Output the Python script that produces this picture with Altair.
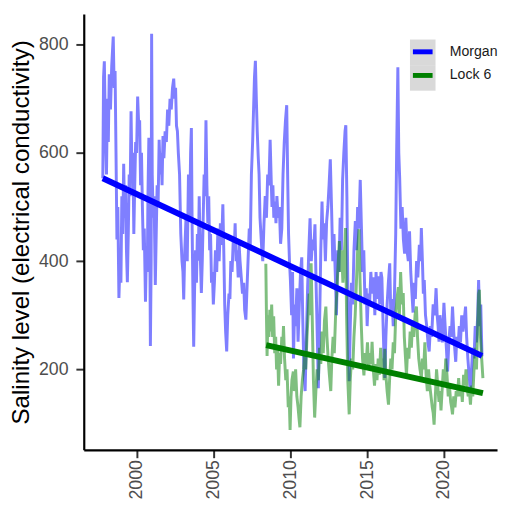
import altair as alt
import pandas as pd

# ---- data ----
morgan_year = [1997.78, 1997.83, 1997.88, 1997.95, 1998.02, 1998.08, 1998.14, 1998.2, 1998.28, 1998.36,
               1998.46, 1998.52, 1998.58, 1998.64, 1998.7, 1998.76, 1998.83, 1998.9, 1998.96, 1999.02,
               1999.08, 1999.14, 1999.2, 1999.26, 1999.32, 1999.38, 1999.44, 1999.5, 1999.56, 1999.62,
               1999.68, 1999.74, 1999.8, 1999.86, 1999.92, 1999.98, 2000.05, 2000.12, 2000.18, 2000.24,
               2000.3, 2000.36, 2000.42, 2000.48, 2000.56, 2000.62, 2000.68, 2000.72, 2000.78, 2000.84,
               2000.88, 2000.93, 2000.96, 2001.0, 2001.06, 2001.12, 2001.2, 2001.26, 2001.32, 2001.38,
               2001.45, 2001.52, 2001.58, 2001.64, 2001.7, 2001.76, 2001.84, 2001.92, 2002.0, 2002.08,
               2002.16, 2002.24, 2002.32, 2002.4, 2002.46, 2002.52, 2002.58, 2002.64, 2002.7, 2002.78,
               2002.86, 2002.94, 2003.0, 2003.05, 2003.12, 2003.2, 2003.28, 2003.36, 2003.44, 2003.5,
               2003.55, 2003.6, 2003.66, 2003.7, 2003.76, 2003.82, 2003.88, 2003.94, 2004.0, 2004.06,
               2004.12, 2004.2, 2004.26, 2004.32, 2004.38, 2004.44, 2004.5, 2004.56, 2004.62, 2004.68,
               2004.74, 2004.8, 2004.86, 2004.92, 2004.98, 2005.05, 2005.12, 2005.2, 2005.28, 2005.36,
               2005.44, 2005.52, 2005.6, 2005.66, 2005.72, 2005.78, 2005.85, 2005.92, 2006.0, 2006.06,
               2006.12, 2006.2, 2006.28, 2006.34, 2006.4, 2006.46, 2006.52, 2006.6, 2006.66, 2006.72,
               2006.8, 2006.88, 2006.96, 2007.02, 2007.1, 2007.16, 2007.24, 2007.32, 2007.38, 2007.46,
               2007.54, 2007.6, 2007.66, 2007.72, 2007.78, 2007.84, 2007.9, 2007.96, 2008.02, 2008.08,
               2008.14, 2008.2, 2008.28, 2008.36, 2008.44, 2008.52, 2008.6, 2008.68, 2008.74, 2008.8,
               2008.86, 2008.92, 2009.0, 2009.06, 2009.12, 2009.2, 2009.28, 2009.36, 2009.44, 2009.52,
               2009.6, 2009.68, 2009.76, 2009.82, 2009.88, 2009.94, 2010.0, 2010.08, 2010.14, 2010.2,
               2010.28, 2010.34, 2010.42, 2010.5, 2010.58, 2010.66, 2010.74, 2010.8, 2010.88, 2010.96,
               2011.04, 2011.12, 2011.2, 2011.28, 2011.36, 2011.44, 2011.52, 2011.6, 2011.68, 2011.76,
               2011.82, 2011.9, 2011.98, 2012.06, 2012.12, 2012.2, 2012.28, 2012.36, 2012.44, 2012.52,
               2012.6, 2012.68, 2012.76, 2012.84, 2012.92, 2013.0, 2013.08, 2013.16, 2013.24, 2013.32,
               2013.4, 2013.48, 2013.56, 2013.61, 2013.68, 2013.76, 2013.83, 2013.9, 2013.98, 2014.06,
               2014.14, 2014.23, 2014.3, 2014.38, 2014.46, 2014.55, 2014.62, 2014.7, 2014.78, 2014.86,
               2014.94, 2015.0, 2015.08, 2015.16, 2015.24, 2015.32, 2015.43, 2015.5, 2015.58, 2015.66,
               2015.74, 2015.82, 2015.9, 2015.96, 2016.04, 2016.1, 2016.15, 2016.22, 2016.3, 2016.38,
               2016.47, 2016.54, 2016.62, 2016.7, 2016.78, 2016.86, 2016.92, 2017.0, 2017.06, 2017.12,
               2017.2, 2017.28, 2017.36, 2017.44, 2017.52, 2017.6, 2017.68, 2017.76, 2017.84, 2017.92,
               2017.99, 2018.06, 2018.14, 2018.22, 2018.3, 2018.4, 2018.48, 2018.53, 2018.6, 2018.66,
               2018.72, 2018.8, 2018.88, 2018.96, 2019.04, 2019.12, 2019.2, 2019.3, 2019.4, 2019.49,
               2019.56, 2019.62, 2019.68, 2019.74, 2019.81, 2019.9, 2020.0, 2020.08, 2020.16, 2020.24,
               2020.32, 2020.4, 2020.48, 2020.56, 2020.64, 2020.7, 2020.77, 2020.84, 2020.92, 2021.0,
               2021.08, 2021.16, 2021.24, 2021.32, 2021.41, 2021.48, 2021.56, 2021.64, 2021.73, 2021.8,
               2021.88, 2021.96, 2022.04, 2022.12, 2022.2, 2022.26, 2022.34, 2022.4, 2022.48]
morgan_ec = [553, 740, 769, 640, 560, 700, 620, 745, 680, 760,
             815, 720, 751, 600, 440, 500, 332, 400, 360, 520,
             450, 580, 480, 540, 420, 361, 450, 560, 520, 677,
             560, 600, 450, 540, 620, 600, 704, 650, 660, 540,
             600, 500, 420, 460, 325, 420, 380, 520, 628, 450,
             243, 400, 820, 560, 480, 520, 356, 450, 540, 500,
             624, 560, 600, 540, 631, 590, 640, 620, 680, 650,
             700, 680, 720, 737, 700, 720, 650, 640, 600, 560,
             450, 400, 380, 329, 420, 480, 400, 560, 480, 600,
             646, 460, 320, 242, 350, 420, 360, 450, 401, 520,
             420, 341, 400, 480, 560, 520, 660, 540, 470, 520,
             420, 450, 360, 380, 320, 360, 420, 380, 460, 400,
             470, 430, 505, 420, 320, 270, 233, 300, 340, 330,
             400, 380, 440, 420, 470, 400, 420, 370, 430, 400,
             370, 340, 360, 310, 292, 340, 400, 460, 420, 560,
             620, 680, 740, 770, 700, 640, 595, 560, 480, 450,
             420, 400, 470, 520, 480, 560, 540, 624, 560, 500,
             540, 480, 510, 470, 520, 480, 500, 432, 460, 560,
             620, 660, 688, 560, 450, 400, 365, 300, 380, 220,
             320, 280, 350, 251, 320, 380, 407, 300, 200, 160,
             260, 350, 420, 479, 400, 440, 420, 468, 350, 250,
             165, 280, 420, 510, 440, 470, 400, 473, 500, 541,
             588, 500, 400, 450, 380, 300, 420, 380, 480, 420,
             550, 600, 640, 651, 520, 300, 178, 280, 360, 320,
             420, 474, 420, 500, 460, 550, 470, 380, 420, 320,
             350, 280, 340, 320, 380, 340, 370, 300, 380, 330,
             372, 320, 380, 369, 280, 220, 184, 260, 320, 360,
             396, 300, 330, 280, 340, 450, 600, 758, 600, 552,
             460, 500, 440, 414, 480, 420, 400, 455, 380, 340,
             305, 360, 330, 400, 370, 430, 400, 461, 400, 340,
             365, 300, 280, 250, 233, 280, 260, 320, 300, 350,
             300, 280, 251, 300, 280, 250, 323, 280, 240, 196,
             250, 280, 260, 316, 270, 240, 214, 260, 240, 280,
             250, 300, 270, 290, 316, 260, 220, 190, 160, 200,
             240, 220, 280, 250, 300, 365, 280, 320, 224]

lock_year = [2008.4, 2008.44, 2008.48, 2008.54, 2008.6, 2008.66, 2008.72, 2008.78, 2008.84, 2008.91,
             2008.98, 2009.04, 2009.1, 2009.16, 2009.23, 2009.3, 2009.36, 2009.44, 2009.5, 2009.55,
             2009.62, 2009.7, 2009.78, 2009.86, 2009.92, 2009.98, 2010.04, 2010.1, 2010.19, 2010.26,
             2010.34, 2010.42, 2010.5, 2010.56, 2010.62, 2010.7, 2010.78, 2010.86, 2010.94, 2011.0,
             2011.08, 2011.15, 2011.22, 2011.28, 2011.35, 2011.42, 2011.5, 2011.58, 2011.66, 2011.74,
             2011.82, 2011.9, 2011.98, 2012.06, 2012.14, 2012.22, 2012.31, 2012.38, 2012.46, 2012.54,
             2012.63, 2012.7, 2012.78, 2012.86, 2012.95, 2013.02, 2013.1, 2013.19, 2013.26, 2013.34,
             2013.42, 2013.5, 2013.59, 2013.66, 2013.74, 2013.83, 2013.9, 2013.98, 2014.06, 2014.14,
             2014.22, 2014.3, 2014.38, 2014.47, 2014.54, 2014.62, 2014.7, 2014.79, 2014.86, 2014.94,
             2015.02, 2015.1, 2015.18, 2015.26, 2015.32, 2015.4, 2015.48, 2015.56, 2015.64, 2015.72,
             2015.8, 2015.88, 2015.96, 2016.04, 2016.1, 2016.15, 2016.22, 2016.3, 2016.39, 2016.46,
             2016.54, 2016.62, 2016.7, 2016.78, 2016.86, 2016.94, 2017.03, 2017.1, 2017.18, 2017.26,
             2017.35, 2017.42, 2017.5, 2017.56, 2017.64, 2017.72, 2017.8, 2017.88, 2017.96, 2018.04,
             2018.12, 2018.21, 2018.28, 2018.36, 2018.44, 2018.53, 2018.6, 2018.68, 2018.76, 2018.84,
             2018.92, 2019.0, 2019.08, 2019.16, 2019.24, 2019.3, 2019.36, 2019.44, 2019.52, 2019.6,
             2019.68, 2019.74, 2019.81, 2019.88, 2019.96, 2020.04, 2020.12, 2020.2, 2020.28, 2020.36,
             2020.44, 2020.5, 2020.56, 2020.64, 2020.72, 2020.8, 2020.88, 2020.96, 2021.04, 2021.12,
             2021.2, 2021.28, 2021.36, 2021.44, 2021.5, 2021.58, 2021.66, 2021.73, 2021.8, 2021.88,
             2021.96, 2022.04, 2022.12, 2022.2, 2022.26, 2022.31, 2022.38, 2022.46, 2022.54]
lock_ec = [395, 300, 225, 300, 260, 310, 270, 320, 260, 298,
           230, 260, 200, 240, 170, 230, 210, 260, 240, 280,
           220, 180, 200, 130, 150, 88, 150, 180, 196, 160,
           200, 150, 130, 110, 93, 150, 180, 200, 233, 200,
           260, 298, 340, 300, 396, 300, 180, 111, 160, 200,
           180, 240, 210, 270, 230, 290, 316, 260, 220, 190,
           160, 220, 260, 230, 305, 340, 390, 437, 380, 420,
           360, 400, 461, 300, 180, 117, 180, 220, 200, 260,
           300, 360, 420, 459, 360, 280, 220, 189, 230, 210,
           250, 200, 230, 210, 251, 200, 170, 210, 180, 220,
           190, 240, 200, 220, 180, 238, 190, 160, 135, 180,
           220, 200, 250, 230, 300, 330, 352, 300, 380, 320,
           341, 260, 220, 189, 240, 220, 270, 240, 290, 260,
           300, 316, 260, 220, 200, 184, 220, 200, 250, 190,
           160, 200, 170, 150, 130, 120, 98, 150, 200, 170,
           140, 160, 124, 160, 200, 170, 220, 190, 150, 170,
           140, 130, 117, 150, 130, 160, 150, 184, 150, 170,
           140, 190, 170, 200, 170, 150, 160, 135, 170, 150,
           200, 240, 200, 280, 340, 347, 260, 220, 184]

sites = ["Morgan", "Lock 6"]
site_colors = ["blue", "green"]

trend_site = ["Morgan", "Morgan", "Lock 6", "Lock 6"]
trend_year = [1997.78, 2022.48, 2008.42, 2022.54]
trend_ec = [553, 225, 245, 156]

box_keys = ["a", "b"]
x_ticks = [2000, 2005, 2010, 2015, 2020]
y_ticks = [200, 400, 600, 800]

FONT = "Liberation Sans"

morgan_df = pd.DataFrame({"year": morgan_year, "ec": morgan_ec})
lock_df = pd.DataFrame({"year": lock_year, "ec": lock_ec})
trend_df = pd.DataFrame({"site": trend_site, "year": trend_year, "ec": trend_ec})

xscale = alt.Scale(domain=[1996.54, 2023.46], nice=False, zero=False)
yscale = alt.Scale(domain=[51.4, 856.6], nice=False, zero=False)

x_enc = alt.X("year:Q", scale=xscale,
              axis=alt.Axis(values=x_ticks, format="d", labelAngle=270, title=None,
                            labelPadding=2))
y_enc = alt.Y("ec:Q", scale=yscale,
              axis=alt.Axis(values=y_ticks, title="Salinity level (electrical conductivity)",
                            labelPadding=8, titlePadding=5))

morgan_line = alt.Chart(morgan_df).mark_line(
    color="blue", opacity=0.5, strokeWidth=3).encode(x=x_enc, y=y_enc)
lock_line = alt.Chart(lock_df).mark_line(
    color="green", opacity=0.5, strokeWidth=3).encode(x="year:Q", y="ec:Q")

trend = alt.Chart(trend_df).mark_line(strokeWidth=6).encode(
    x="year:Q", y="ec:Q",
    color=alt.Color("site:N", scale=alt.Scale(domain=sites, range=site_colors),
                    legend=alt.Legend(title=None, orient="none", legendX=332, legendY=26,
                                      symbolType="stroke", symbolSize=400,
                                      symbolStrokeWidth=5, symbolOpacity=1,
                                      labelFont=FONT, labelFontSize=14.3,
                                      labelColor="#1a1a1a", labelOffset=15,
                                      labelLimit=200,
                                      rowPadding=1, padding=0, zindex=2)))

key_box = alt.Chart(trend_df).transform_filter("false").mark_square(opacity=1).encode(
    x="year:Q", y="ec:Q",
    fill=alt.Fill("key:N", scale=alt.Scale(domain=box_keys, range=["#D9D9D9", "#D9D9D9"]),
                  legend=alt.Legend(title=None, orient="none", legendX=331.5, legendY=26,
                                    symbolType="square", symbolSize=676,
                                    symbolStrokeWidth=0, symbolOpacity=1,
                                    labelExpr="''", labelFontSize=1,
                                    rowPadding=0, padding=0, zindex=1)))

chart = alt.layer(morgan_line, lock_line, trend, key_box).resolve_scale(
    color="independent"
).properties(
    width=420, height=443,
    padding={"left": 77, "top": 2, "right": 2, "bottom": 50},
    autosize=alt.AutoSizeParams(type="none"),
).configure_view(stroke=None).configure_axis(
    grid=False, domainColor="black", domainWidth=2.2, tickColor="#333333",
    tickWidth=2, tickSize=8, labelFont=FONT, labelFontSize=18, labelColor="#4D4D4D",
    titleFont=FONT, titleFontSize=24.5, titleFontWeight="normal", titleColor="black",
)

chart.save("out.html", embed_options={"renderer": "svg", "actions": False})
